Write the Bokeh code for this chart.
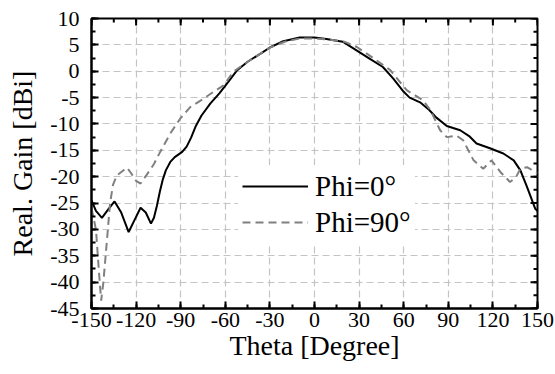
import math
from bokeh.plotting import figure
from bokeh.models import FixedTicker, Range1d, Legend, LegendItem
from bokeh.embed import file_html
from bokeh.resources import INLINE

# Phi = 0 deg (solid)
theta0 = [-150, -147, -143, -139, -134.5, -130, -125, -121, -117, -113.5, -110, -108, -106, -104,
          -102, -100, -97, -94, -89, -86, -83, -80, -76, -70, -64, -58, -52, -45, -36, -30, -21,
          -10, 0, 8, 19, 28, 37, 46, 53, 60, 64, 71, 77, 82, 89, 98, 104, 109, 118, 127, 134,
          138.5, 143, 148.5, 150]
gain0 = [-24.5, -26.5, -27.8, -26.3, -24.7, -26.8, -30.5, -28.2, -25.9, -26.8, -28.9, -27.8, -25.5,
         -22.8, -20.5, -18.8, -17.2, -16.3, -15.3, -14.3, -12.6, -10.5, -8.4, -6.1, -4.2, -2.0, 0.2,
         1.8, 3.4, 4.5, 5.7, 6.4, 6.4, 6.1, 5.6, 4.0, 2.4, 0.8, -1.4, -3.9, -5.0, -5.9, -7.3, -8.8,
         -10.4, -11.2, -12.3, -13.7, -14.6, -15.6, -16.9, -18.8, -22.0, -26.1, -26.5]

# Phi = 90 deg (dashed)
theta90 = [-150, -147, -145, -143.5, -142, -140.5, -139, -137.5, -135.5, -133, -128, -126, -123,
           -120, -117, -113, -108, -103.8, -97, -90.4, -83.6, -74.6, -67.9, -61.2, -54.5, -45, -36,
           -30, -20, -10, 0, 10, 20, 28.5, 40, 51, 62, 73, 78, 84.5, 89, 95.5, 100, 107, 113.5, 119,
           125, 131.5, 135.5, 138.5, 143, 148.5, 150]
gain90 = [-26.0, -30.0, -38.0, -43.5, -40.0, -35.0, -30.0, -25.0, -21.5, -19.8, -18.7, -18.3, -19.5,
          -20.8, -21.3, -19.7, -17.6, -15.3, -11.8, -9.0, -6.8, -5.2, -3.9, -2.7, -0.1, 1.8, 3.4,
          4.5, 5.6, 6.2, 6.2, 6.0, 5.6, 4.6, 2.4, 0.2, -3.6, -5.5, -7.4, -11.2, -12.5, -12.2, -13.1,
          -16.9, -18.5, -16.9, -19.1, -21.0, -20.1, -18.5, -18.2, -19.1, -19.3]

x_ticks = [-150, -120, -90, -60, -30, 0, 30, 60, 90, 120, 150]
x_minor = [-150 + 15 * i for i in range(21)]
y_ticks = [10, 5, 0, -5, -10, -15, -20, -25, -30, -35, -40, -45]
y_minor = [-45 + 2.5 * i for i in range(23)]

FONT = "Liberation Serif"

p = figure(width=555, height=374, output_backend="svg", toolbar_location=None,
           x_range=Range1d(-150, 150), y_range=Range1d(-45, 10),
           min_border_left=91, min_border_right=18, min_border_top=18, min_border_bottom=66,
           x_axis_label="Theta [Degree]", y_axis_label="Real. Gain [dBi]")
p.background_fill_color = "white"
p.border_fill_color = "white"
p.outline_line_color = "black"
p.outline_line_width = 2

xt = FixedTicker(ticks=x_ticks, minor_ticks=x_minor)
yt = FixedTicker(ticks=y_ticks, minor_ticks=y_minor)

for ax, ticker, ticks in ((p.xaxis[0], xt, x_ticks), (p.yaxis[0], yt, y_ticks)):
    ax.ticker = ticker
    ax.major_label_overrides = {t: str(t) for t in ticks}
    ax.axis_line_color = "black"
    ax.axis_line_width = 2
    ax.major_tick_in = 7
    ax.major_tick_out = 0
    ax.minor_tick_in = 4
    ax.minor_tick_out = 0
    ax.major_tick_line_width = 2
    ax.minor_tick_line_width = 2
    ax.major_tick_line_color = "black"
    ax.minor_tick_line_color = "black"
    ax.major_label_text_font = FONT
    ax.major_label_text_font_size = "22px"
    ax.major_label_text_color = "black"
    ax.axis_label_text_font = FONT
    ax.axis_label_text_font_size = "28px"
    ax.axis_label_text_font_style = "normal"
    ax.axis_label_text_color = "black"

p.xaxis.major_label_standoff = 4
p.xaxis.axis_label_standoff = 0
p.yaxis.major_label_standoff = 12
p.yaxis.axis_label_standoff = 9

# inward ticks on the top and right edges of the frame
p.ray(x=x_ticks, y=10, length=7, angle=-math.pi / 2, length_units="screen",
      line_color="black", line_width=2)
p.ray(x=x_minor, y=10, length=4, angle=-math.pi / 2, length_units="screen",
      line_color="black", line_width=2)
p.ray(x=150, y=y_ticks, length=7, angle=math.pi, length_units="screen",
      line_color="black", line_width=2)
p.ray(x=150, y=y_minor, length=4, angle=math.pi, length_units="screen",
      line_color="black", line_width=2)

for g in (p.xgrid[0], p.ygrid[0]):
    g.grid_line_color = "#c4c4c4"
    g.grid_line_dash = "7 4"
    g.grid_line_width = 1.2
p.xgrid.ticker = xt
p.ygrid.ticker = yt

r0 = p.line(theta0, gain0, line_color="black", line_width=2)
r90 = p.line(theta90, gain90, line_color="#808080", line_width=2, line_dash="8 5")

legend = Legend(items=[LegendItem(label="Phi=0°", renderers=[r0]),
                       LegendItem(label="Phi=90°", renderers=[r90])],
                location=(147, 65))
legend.label_text_font = FONT
legend.label_text_font_size = "29px"
legend.label_text_color = "black"
legend.glyph_width = 66
legend.glyph_height = 34
legend.label_height = 34
legend.label_standoff = 7
legend.spacing = 2
legend.padding = 4
legend.margin = 0
legend.border_line_alpha = 0
legend.background_fill_color = "white"
legend.background_fill_alpha = 1.0
p.add_layout(legend, "center")

open("out.html", "w").write(file_html(p, INLINE))
